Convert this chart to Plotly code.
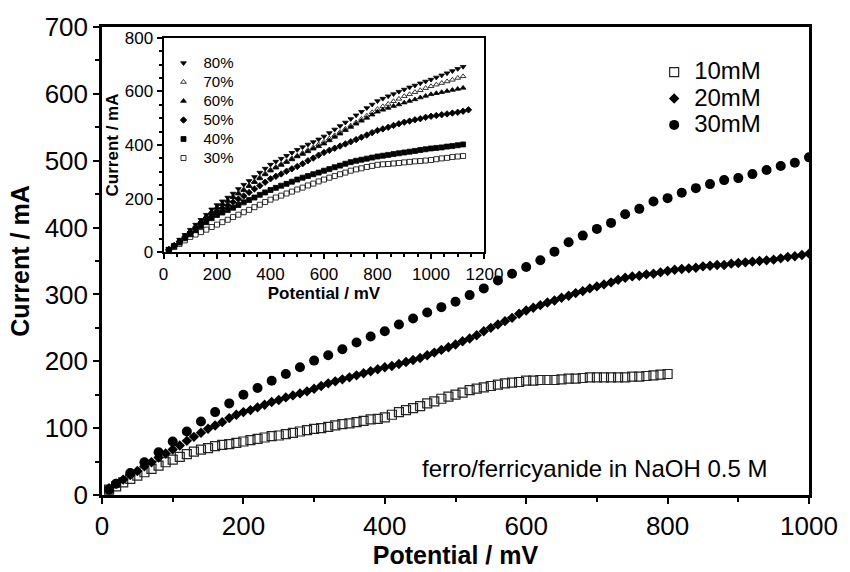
import plotly.graph_objects as go

# ---------------- main plot data ----------------
pot_10mM = list(range(10, 801, 10))
cur_10mM = [8, 13, 19, 24, 29, 34, 39, 44, 49, 53,
            57, 61, 65, 68, 70, 73, 75, 76, 78, 80,
            82, 84, 86, 88, 89, 91, 93, 95, 97, 99,
            100, 102, 104, 106, 107, 109, 111, 113, 114, 116,
            120, 124, 127, 130, 133, 137, 140, 144, 147, 150,
            153, 157, 159, 161, 163, 165, 167, 168, 169, 171,
            171, 172, 172, 172, 173, 174, 174, 175, 176, 176,
            176, 176, 176, 176, 177, 177, 178, 179, 180, 181]

pot_20mM = list(range(10, 1001, 10))
cur_20mM = [10, 17, 23, 30, 36, 43, 49, 56, 62, 68,
            74, 81, 87, 93, 99, 104, 109, 115, 120, 124,
            127, 131, 135, 139, 142, 146, 149, 152, 155, 159,
            163, 167, 170, 173, 176, 179, 182, 185, 188, 191,
            193, 196, 199, 202, 205, 209, 213, 217, 221, 225,
            230, 234, 239, 245, 250, 255, 260, 265, 271, 276,
            280, 284, 288, 291, 295, 298, 302, 305, 309, 312,
            315, 318, 322, 325, 327, 328, 330, 331, 333, 335,
            337, 338, 339, 340, 342, 343, 344, 344, 346, 347,
            348, 349, 350, 351, 352, 354, 356, 357, 359, 361]

pot_30mM = [10] + list(range(20, 1001, 20))
cur_30mM = [8, 17, 33, 49, 64, 80, 95, 110, 124, 137,
            150, 160, 171, 181, 191, 201, 209, 218, 228, 237,
            245, 255, 264, 273, 281, 289, 299, 309, 321, 331,
            341, 351, 364, 378, 388, 398, 407, 420, 428, 439,
            444, 452, 459, 465, 471, 474, 480, 486, 492, 497,
            505]

# ---------------- inset data ----------------
pot_inset = list(range(20, 1121, 20))
pot_inset_50 = list(range(20, 1141, 20))
cur_80 = [12, 28, 47, 65, 84, 103, 121, 140, 160, 176,
          190, 204, 219, 236, 252, 266, 281, 297, 312, 327,
          338, 349, 360, 371, 382, 392, 402, 411, 421, 432,
          445, 458, 471, 484, 497, 511, 524, 538, 551, 564,
          573, 582, 590, 599, 607, 615, 622, 630, 637, 644,
          652, 660, 668, 676, 684, 692]
cur_70 = [11, 26, 44, 62, 80, 98, 116, 134, 152, 168,
          181, 194, 208, 221, 234, 249, 264, 279, 294, 308,
          318, 329, 339, 350, 360, 370, 381, 391, 402, 412,
          424, 436, 448, 460, 472, 484, 497, 509, 522, 534,
          544, 553, 563, 572, 582, 589, 597, 604, 612, 619,
          625, 631, 637, 643, 650, 656]
cur_60 = [11, 26, 43, 61, 79, 97, 115, 133, 150, 165,
          178, 191, 205, 218, 231, 246, 261, 275, 290, 304,
          315, 325, 336, 346, 357, 366, 376, 386, 395, 405,
          417, 430, 442, 455, 467, 479, 490, 501, 513, 524,
          531, 538, 545, 551, 558, 564, 570, 577, 583, 589,
          593, 597, 601, 605, 609, 613]
cur_50 = [10, 24, 39, 56, 72, 89, 106, 122, 139, 153,
          164, 175, 187, 198, 210, 223, 236, 248, 261, 274,
          283, 292, 302, 311, 320, 330, 341, 351, 362, 372,
          380, 388, 396, 404, 412, 420, 429, 437, 446, 454,
          460, 466, 473, 479, 485, 489, 494, 498, 503, 507,
          510, 513, 516, 519, 522, 526, 531]
cur_40 = [9, 22, 36, 52, 67, 82, 97, 112, 127, 139,
          148, 157, 166, 176, 186, 195, 204, 214, 223, 232,
          240, 248, 255, 263, 271, 278, 284, 291, 297, 304,
          310, 317, 323, 330, 336, 341, 345, 349, 353, 357,
          360, 363, 366, 369, 372, 375, 378, 381, 384, 387,
          389, 391, 394, 396, 399, 402]
cur_30 = [8, 19, 31, 44, 57, 66, 75, 84, 94, 103,
          112, 121, 131, 140, 149, 158, 168, 177, 187, 196,
          204, 211, 219, 226, 234, 241, 249, 256, 264, 271,
          278, 284, 291, 297, 304, 309, 313, 318, 322, 326,
          328, 329, 331, 333, 335, 337, 339, 340, 342, 344,
          347, 350, 352, 355, 357, 359]

FONT = "Liberation Sans, Arial, sans-serif"


def big(txt, px):
    return '<span style="font-size:%dpx">%s</span>' % (px, txt)


fig = go.Figure()

# main traces
fig.add_trace(go.Scatter(x=pot_10mM, y=cur_10mM, mode="markers", name=big("10mM", 24),
                         marker=dict(symbol="square-open", size=9, color="#222",
                                     line=dict(width=1.2, color="#222")),
                         legend="legend"))
fig.add_trace(go.Scatter(x=pot_20mM, y=cur_20mM, mode="markers", name=big("20mM", 24),
                         marker=dict(symbol="diamond", size=8, color="black"),
                         legend="legend"))
fig.add_trace(go.Scatter(x=pot_30mM, y=cur_30mM, mode="markers", name=big("30mM", 24),
                         marker=dict(symbol="circle", size=10, color="black"),
                         legend="legend"))

# inset traces
inset = [
    ("80%", pot_inset, cur_80, "triangle-down"),
    ("70%", pot_inset, cur_70, "triangle-up-open"),
    ("60%", pot_inset, cur_60, "triangle-up"),
    ("50%", pot_inset_50, cur_50, "diamond"),
    ("40%", pot_inset, cur_40, "square"),
    ("30%", pot_inset, cur_30, "square-open"),
]
for name, xs, ys, sym in inset:
    fig.add_trace(go.Scatter(x=xs, y=ys, mode="markers", name=big(name, 15),
                             xaxis="x2", yaxis="y2", legend="legend2",
                             marker=dict(symbol=sym, size=5, color="black",
                                         line=dict(width=0.8, color="black"))))

axis_common = dict(showgrid=False, zeroline=False, showline=True, mirror=True,
                   linecolor="black", ticks="outside", tickcolor="black",
                   color="black")

fig.update_layout(
    width=850, height=572,
    margin=dict(l=102, r=35, t=26, b=68),
    paper_bgcolor="white", plot_bgcolor="white",
    font=dict(family=FONT, color="black"),
    xaxis=dict(**axis_common, range=[0, 1000], dtick=200, tick0=0,
               linewidth=2.5, tickwidth=2, ticklen=6,
               tickfont=dict(size=26, family=FONT),
               minor=dict(dtick=100, ticklen=4, tickwidth=2, ticks="outside", tickcolor="black"),
               title=dict(text="<b>Potential / mV</b>", font=dict(size=25, family=FONT), standoff=2)),
    yaxis=dict(**axis_common, range=[0, 700], dtick=100, tick0=0,
               linewidth=2.5, tickwidth=2, ticklen=6,
               tickfont=dict(size=26, family=FONT),
               minor=dict(dtick=50, ticklen=4, tickwidth=2, ticks="outside", tickcolor="black"),
               title=dict(text="<b>Current / mA</b>", font=dict(size=25, family=FONT), standoff=8)),
    xaxis2=dict(**axis_common, domain=[0.087, 0.541], anchor="y2", range=[0, 1200],
                dtick=200, tick0=0, linewidth=2, tickwidth=1.5, ticklen=5,
                tickfont=dict(size=17, family=FONT),
                minor=dict(dtick=50, ticklen=3, tickwidth=1.5, ticks="outside", tickcolor="black"),
                title=dict(text="<b>Potential / mV</b>", font=dict(size=17, family=FONT), standoff=4)),
    yaxis2=dict(**axis_common, domain=[0.5188, 0.977], anchor="x2", range=[0, 800],
                dtick=200, tick0=0, linewidth=2, tickwidth=1.5, ticklen=5,
                tickfont=dict(size=17, family=FONT),
                minor=dict(dtick=50, ticklen=3, tickwidth=1.5, ticks="outside", tickcolor="black"),
                title=dict(text="<b>Current / mA</b>", font=dict(size=17, family=FONT), standoff=2)),
    legend=dict(x=0.781, y=0.9425, xanchor="left", yanchor="top",
                bgcolor="rgba(0,0,0,0)", font=dict(size=18, family=FONT),
                itemwidth=30, tracegroupgap=0),
    legend2=dict(x=0.087, y=0.954, xanchor="left", yanchor="top",
                 bgcolor="rgba(0,0,0,0)", font=dict(size=12, family=FONT),
                 itemwidth=30, tracegroupgap=0),
    showlegend=True,
    annotations=[dict(text="ferro/ferricyanide in NaOH 0.5 M", xref="paper", yref="paper",
                      x=0.944, y=0.0565, xanchor="right", yanchor="middle", showarrow=False,
                      font=dict(size=24, family=FONT, color="black"))],
)

fig.write_html("out.html")
